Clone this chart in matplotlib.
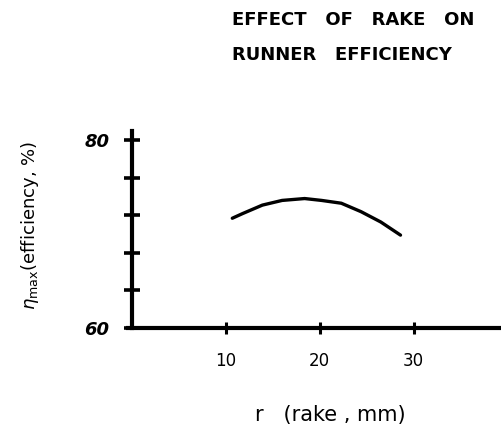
import matplotlib.pyplot as plt

# rake (mm) vs maximum runner efficiency (%)
rake_mm = [10.7, 11.8, 13.9, 16.0, 18.4, 20.2, 22.3, 24.4, 26.5, 28.6]
eff_max = [71.7, 72.2, 73.1, 73.6, 73.8, 73.6, 73.3, 72.4, 71.3, 69.9]

x_ticks = [10, 20, 30]
x_ticklabels = ["10", "20", "30"]
y_ticks = [60, 64, 68, 72, 76, 80]
y_ticklabels = ["60", "", "", "", "", "80"]

fig = plt.figure(figsize=(5.02, 4.32), dpi=100)
ax = fig.add_axes([128 / 502, 104 / 432, 374 / 502, 197 / 432])

ax.plot(rake_mm, eff_max, color="black", lw=2.4, solid_capstyle="round",
        solid_joinstyle="round")

ax.set_xlim(-0.4, 39.4)
ax.set_ylim(60, 81)
ax.spines["left"].set_position(("data", 0))
for side in ("top", "right"):
    ax.spines[side].set_visible(False)
for side in ("left", "bottom"):
    ax.spines[side].set_linewidth(3)

ax.set_xticks(x_ticks)
ax.set_xticklabels(x_ticklabels, fontsize=12)
ax.set_yticks(y_ticks)
ax.set_yticklabels(y_ticklabels, fontsize=13, fontweight="bold", style="italic")
ax.tick_params(axis="y", direction="inout", length=12, width=2.6, pad=10)
ax.tick_params(axis="x", direction="inout", length=9, width=2.2, pad=13)

fig.text(232 / 502, 1 - 20 / 432, "EFFECT   OF   RAKE   ON", ha="left",
         va="center", fontsize=13, fontweight="bold")
fig.text(232 / 502, 1 - 55 / 432, "RUNNER   EFFICIENCY", ha="left",
         va="center", fontsize=13, fontweight="bold")

fig.text(330 / 502, 1 - 415 / 432, "r   (rake , mm)", ha="center", va="center",
         fontsize=15)
fig.text(30 / 502, 1 - 225 / 432, r"$\eta_{\mathrm{max}}$(efficiency, %)",
         ha="center", va="center", rotation=90, fontsize=13)

fig.savefig("out.png", dpi=100)
